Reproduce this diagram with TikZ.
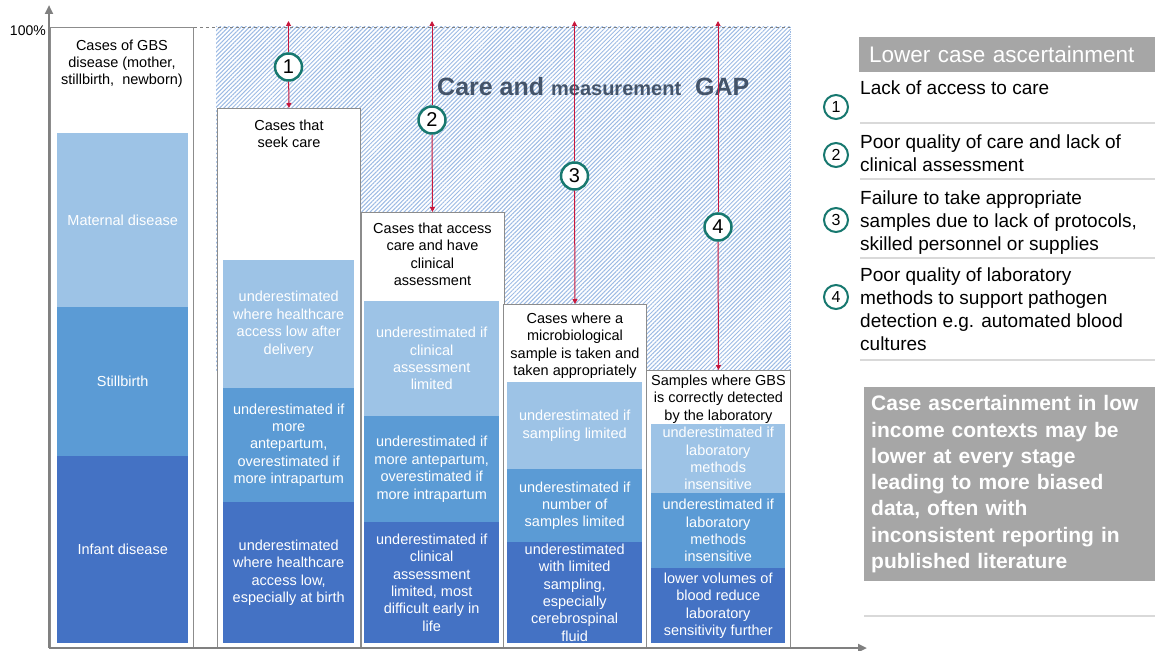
\documentclass[tikz,border=0pt]{standalone}
\usepackage{fontspec}
\setmainfont{Liberation Sans}
\usetikzlibrary{arrows.meta,patterns.meta,positioning}

\begin{document}
\begin{tikzpicture}[x=1pt,y=-1pt,>={Triangle[length=5pt,width=5pt]}]

\definecolor{lbox}{HTML}{9DC3E6} % light blue
\definecolor{mbox}{HTML}{5B9BD5} % mid blue
\definecolor{dbox}{HTML}{4472C4} % dark blue
\definecolor{colline}{HTML}{8C8C8C} % column border
\definecolor{axgray}{HTML}{808080} % axes
\definecolor{hatchc}{HTML}{9DBBE4} % gap hatching
\definecolor{gapred}{HTML}{C8173C} % gap arrows
\definecolor{numteal}{HTML}{17786F} % numbered circles
\definecolor{gaptxt}{HTML}{44546A} % gap title
\definecolor{hdrgray}{HTML}{A6A6A6} % grey panels
\definecolor{rulegray}{HTML}{D9D9D9} % legend rules

\tikzstyle{colbox}=[rectangle,draw=colline,fill=white,line width=0.9pt,
	anchor=north west,inner sep=0pt]

\tikzstyle{band}=[rectangle,anchor=north west,inner sep=0pt,
	text=white,align=center,font=\fontsize{14.5}{17.4}\selectfont]
\tikzstyle{lite}=[band,fill=lbox]
\tikzstyle{midb}=[band,fill=mbox]
\tikzstyle{dark}=[band,fill=dbox]

\tikzstyle{coltitle}=[anchor=north,align=center,inner sep=0pt,
	font=\fontsize{14.5}{17.4}\selectfont]

\tikzstyle{gapnum}=[circle,draw=numteal,fill=white,line width=2.5pt,
	minimum size=27pt,inner sep=0pt,font=\fontsize{20}{20}\selectfont]
\tikzstyle{keynum}=[circle,draw=numteal,fill=white,line width=2pt,
	minimum size=24pt,inner sep=0pt,font=\fontsize{16}{16}\selectfont]
\tikzstyle{keytxt}=[anchor=north west,align=left,inner sep=0pt,
	font=\fontsize{19}{23}\selectfont]

\tikzstyle{gap}=[->,color=gapred,line width=1pt]
\tikzstyle{axis}=[-{Triangle[length=9pt,width=8pt]},color=axgray,line width=2.5pt]
\tikzstyle{rule}=[color=rulegray,line width=1.5pt]

  \useasboundingbox (0,0) rectangle (1155,650);

  %% \draw [help lines] (0,0) grid (1155,650);

  \fill [pattern={Lines[angle=45,distance=3pt,line width=1pt]},pattern color=hatchc]
        (216,27) rectangle (790,370);
  \draw [hatchc,densely dotted,line width=0.8pt] (790,27) -- (790,370);

  \coordinate (orig) at (49,648);
  \coordinate (ytop) at (49,5);
  \coordinate (xend) at (867,648);
  \coordinate (gapend) at (790,27);

  \node  (col1)  at (50,27)    [colbox,minimum width=143pt,minimum height=621pt] {};
  \node  (col2)  at (217,108)  [colbox,minimum width=143pt,minimum height=540pt] {};
  \node  (col3)  at (360.5,212) [colbox,minimum width=143pt,minimum height=436pt] {};
  \node  (col4)  at (503,304)  [colbox,minimum width=143pt,minimum height=344pt] {};
  \node  (col5)  at (646,370)  [colbox,minimum width=144pt,minimum height=278pt] {};

  \draw [axgray,dashed,line width=0.8pt] (col1.north east) -- (gapend);

  \node  (col1t) [coltitle,below=12.5pt of col1.north]
         {Cases of GBS\\disease (mother,\\stillbirth,~ newborn)};
  \node  (col2t) [coltitle,below=11.5pt of col2.north] {Cases that\\seek care};
  \node  (col3t) [coltitle,below=10.5pt of col3.north]
         {Cases that access\\care and have\\clinical\\assessment};
  \node  (col4t) [coltitle,below=8.5pt of col4.north]
         {Cases where a\\microbiological\\sample is taken and\\taken appropriately};
  \node  (col5t) [coltitle,below=4.5pt of col5.north]
         {Samples where GBS\\is correctly detected\\by the laboratory};

  \node  (col1a) at (57,133)  [lite,minimum width=131pt,minimum height=174pt] {Maternal disease};
  \node  (col1b) at (57,307)  [midb,minimum width=131pt,minimum height=149pt] {Stillbirth};
  \node  (col1c) at (57,456)  [dark,minimum width=131pt,minimum height=187pt] {Infant disease};

  \node  (col2a) at (223,260) [lite,minimum width=131pt,minimum height=128pt]
         {underestimated\\where healthcare\\access low after\\delivery};
  \node  (col2b) at (223,388) [midb,minimum width=131pt,minimum height=114pt]
         {underestimated if\\more\\antepartum,\\overestimated if\\more intrapartum};
  \node  (col2c) at (223,502) [dark,minimum width=131pt,minimum height=141pt]
         {underestimated\\where healthcare\\access low,\\especially at birth};

  \node  (col3a) at (364,301) [lite,minimum width=135pt,minimum height=115pt]
         {underestimated if\\clinical\\assessment\\limited};
  \node  (col3b) at (364,416) [midb,minimum width=135pt,minimum height=106pt]
         {underestimated if\\more antepartum,\\overestimated if\\more intrapartum};
  \node  (col3c) at (364,522) [dark,minimum width=135pt,minimum height=121pt]
         {underestimated if\\clinical\\assessment\\limited, most\\difficult early in\\life};

  \node  (col4a) at (507,382) [lite,minimum width=135pt,minimum height=87pt]
         {underestimated if\\sampling limited};
  \node  (col4b) at (507,469) [midb,minimum width=135pt,minimum height=73pt]
         {underestimated if\\number of\\samples limited};
  \node  (col4c) at (507,542) [dark,minimum width=135pt,minimum height=101pt]
         {underestimated\\with limited\\sampling,\\especially\\cerebrospinal\\fluid};

  \node  (col5a) at (651,424) [lite,minimum width=134pt,minimum height=69pt]
         {underestimated if\\laboratory\\methods\\insensitive};
  \node  (col5b) at (651,493) [midb,minimum width=134pt,minimum height=75pt]
         {underestimated if\\laboratory\\methods\\insensitive};
  \node  (col5c) at (651,568) [dark,minimum width=134pt,minimum height=75pt]
         {lower volumes of\\blood reduce\\laboratory\\sensitivity further};

  \draw [axis] (orig) -- (ytop);
  \draw [axis] (orig) -- (xend);
  \node  (pct) at (46,31) [anchor=east,inner sep=0pt,font=\fontsize{14}{14}\selectfont] {100\%};

  \node  (gaptitle) at (437,87) [anchor=west,inner sep=0pt,text=gaptxt,font=\bfseries]
         {\fontsize{25}{25}\selectfont Care and
          {\fontsize{20}{25}\selectfont measurement}\ \ GAP};

  \node  (top1) at (288.5,21) [coordinate] {};
  \node  (top2) at (432,21)   [coordinate] {};
  \node  (top3) at (574.5,21) [coordinate] {};
  \node  (top4) at (718,21)   [coordinate] {};

  \node  (n1) at (288.5,67)  [gapnum] {1};
  \node  (n2) at (432,120)   [gapnum] {2};
  \node  (n3) at (574.5,176) [gapnum] {3};
  \node  (n4) at (718,227)   [gapnum] {4};

  \path (n1) edge [gap] (top1)
             edge [gap] (col2.north)
        (n2) edge [gap] (top2)
             edge [gap] (col3.north)
        (n3) edge [gap] (top3)
             edge [gap] (col4.north)
        (n4) edge [gap] (top4)
             edge [gap] (col5.north);

  %% legend
  \node  (hdr) at (859,37) [anchor=north west,fill=hdrgray,text=white,
         minimum height=35pt,inner xsep=10pt,text width=276pt,align=left,
         font=\fontsize{22.5}{22.5}\selectfont] {Lower case ascertainment};

  \node  (k1) at (836,107) [keynum] {1};
  \node  (k2) at (836,155) [keynum] {2};
  \node  (k3) at (836,220) [keynum] {3};
  \node  (k4) at (836,297) [keynum] {4};

  \node  (t1) at (860,81)  [keytxt] {Lack of access to care};
  \node  (t2) at (860,135) [keytxt] {Poor quality of care and lack of\\clinical assessment};
  \node  (t3) at (860,191) [keytxt]
         {Failure to take appropriate\\samples due to lack of protocols,\\skilled personnel or supplies};
  \node  (t4) at (860,268) [keytxt]
         {Poor quality of laboratory\\methods to support pathogen\\detection e.g. automated blood\\cultures};

  \foreach \y in {123,179,258,360}
    \draw [rule] (860,\y) -- (1155,\y);
  \draw [rule] (864,616) -- (1155,616);

  \node  (note) at (864,387) [anchor=north west,fill=hdrgray,text=white,
         minimum height=194pt,inner xsep=7pt,text width=277pt,align=left,
         font=\bfseries\fontsize{21}{26.3}\selectfont]
         {Case ascertainment in low\\income contexts may be\\lower at every stage\\leading to more biased\\data, often with\\inconsistent reporting in\\published literature};

\end{tikzpicture}
\end{document}
